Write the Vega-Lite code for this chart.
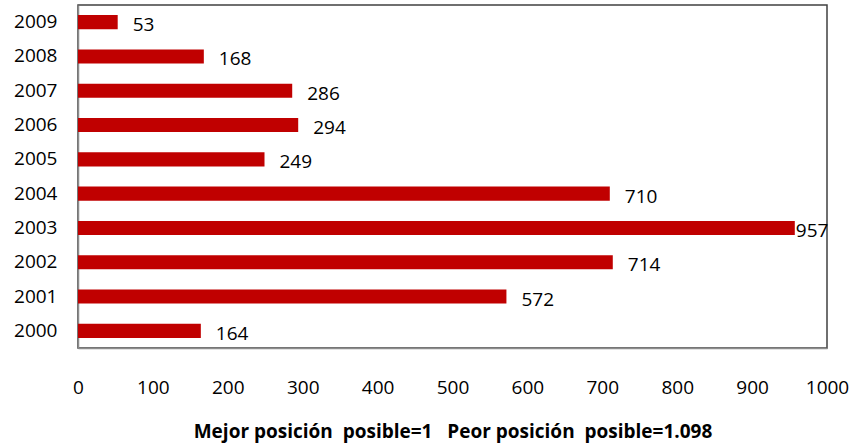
{
  "$schema": "https://vega.github.io/schema/vega-lite/v6.json",
  "autosize": {"type": "none"},
  "width": 749,
  "height": 343,
  "padding": {"left": 78, "top": 5, "right": 25, "bottom": 95},
  "background": "white",
  "config": {
    "font": "Open Sans",
    "view": {"stroke": "#404040", "strokeWidth": 1.5}
  },
  "data": {
    "values": [
      {"year": "2009", "value": 53},
      {"year": "2008", "value": 168},
      {"year": "2007", "value": 286},
      {"year": "2006", "value": 294},
      {"year": "2005", "value": 249},
      {"year": "2004", "value": 710},
      {"year": "2003", "value": 957},
      {"year": "2002", "value": 714},
      {"year": "2001", "value": 572},
      {"year": "2000", "value": 164}
    ]
  },
  "encoding": {
    "y": {
      "field": "year",
      "type": "nominal",
      "sort": "descending",
      "scale": {"paddingInner": 0.59, "paddingOuter": 0.295},
      "axis": {
        "title": null,
        "ticks": false,
        "domain": true,
        "domainColor": "#8c8c8c",
        "domainWidth": 1.5,
        "labelFont": "Open Sans",
        "labelFontSize": 19,
        "labelColor": "#000",
        "labelPadding": 21
      }
    },
    "x": {
      "field": "value",
      "type": "quantitative",
      "scale": {"domain": [0, 1000], "nice": false},
      "axis": {
        "values": [0, 100, 200, 300, 400, 500, 600, 700, 800, 900, 1000],
        "format": "d",
        "grid": false,
        "ticks": false,
        "domain": true,
        "domainColor": "#8c8c8c",
        "domainWidth": 1.5,
        "labelFont": "Open Sans",
        "labelFontSize": 19,
        "labelColor": "#000",
        "labelPadding": 30,
        "labelFlush": false,
        "title": "Mejor posición\u00a0\u00a0posible=1\u00a0\u00a0\u00a0Peor posición\u00a0\u00a0posible=1.098",
        "titleFont": "Open Sans",
        "titleFontSize": 19,
        "titleFontWeight": "bold",
        "titleColor": "#000",
        "titlePadding": 25
      }
    }
  },
  "layer": [
    {"mark": {"type": "bar", "color": "#c00000"}},
    {
      "transform": [{"filter": "datum.value < 900"}],
      "mark": {"type": "text", "align": "left", "baseline": "middle", "dx": 15, "dy": 3, "fontSize": 19, "font": "Open Sans", "color": "#000"},
      "encoding": {"text": {"field": "value", "type": "quantitative"}}
    },
    {
      "transform": [{"filter": "datum.value >= 900"}],
      "mark": {"type": "text", "align": "left", "baseline": "middle", "dx": 1, "dy": 3, "fontSize": 19, "font": "Open Sans", "color": "#000"},
      "encoding": {"text": {"field": "value", "type": "quantitative"}}
    }
  ]
}
